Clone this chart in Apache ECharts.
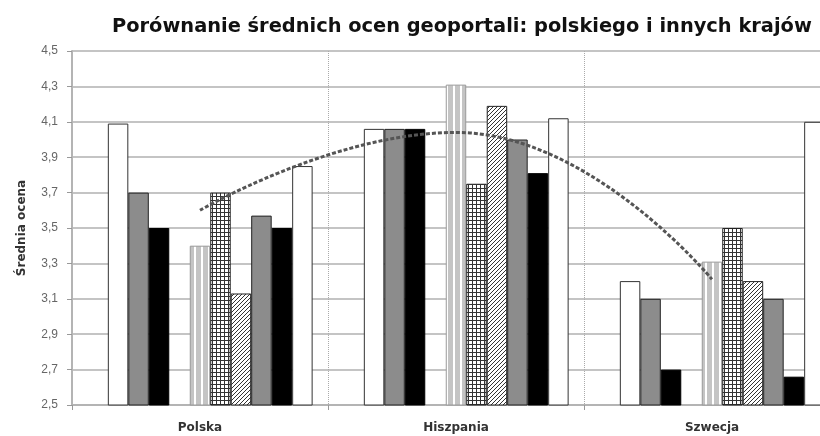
<!DOCTYPE html>
<html lang="pl">

<head>
    <meta charset="UTF-8">
    <title>Porównanie średnich ocen geoportali</title>
    <style>
        * {
            padding: 0;
            margin: 0;
        }
        body {
            background: #fff;
        }
    </style>
</head>

<body>
    <div id="chart" style="width: 820px; height: 436px;"></div>
    <script src="https://cdn.jsdelivr.net/npm/echarts@6/dist/echarts.min.js"></script>
    <script>
        let mychart = echarts.init(document.getElementById('chart'))

        const countries = ['Polska', 'Hiszpania', 'Szwecja']
        const yTicks = { min: 2.5, max: 4.5, step: 0.2 }

        // kolejne słupki w grupie (dwa puste miejsca jak w oryginale)
        const empty1 = [null, null, null]
        const white1 = [4.09, 4.06, 3.20]
        const gray1 = [3.70, 4.06, 3.10]
        const black1 = [3.50, 4.06, 2.70]
        const empty2 = [null, null, null]
        const stripes = [3.40, 4.31, 3.31]
        const checks = [3.70, 3.75, 3.50]
        const hatch = [3.13, 4.19, 3.20]
        const gray2 = [3.57, 4.00, 3.10]
        const black2 = [3.50, 3.81, 2.66]
        const white2 = [3.85, 4.12, 4.10]
        // linia średniej
        const average = [3.60, 4.04, 3.21]

        // wzory wypełnienia
        function pattern(w, h, draw) {
            const c = document.createElement('canvas')
            c.width = w
            c.height = h
            const ctx = c.getContext('2d')
            ctx.fillStyle = '#fff'
            ctx.fillRect(0, 0, w, h)
            draw(ctx)
            return { image: c, repeat: 'repeat' }
        }

        const stripeFill = pattern(7, 4, ctx => {
            ctx.fillStyle = '#c4c4c4'
            ctx.fillRect(0, 0, 5, 4)
        })
        const checkFill = pattern(4, 4, ctx => {
            ctx.fillStyle = '#333'
            ctx.fillRect(0, 0, 4, 1)
            ctx.fillRect(0, 0, 1, 4)
        })
        const hatchFill = pattern(4, 4, ctx => {
            ctx.strokeStyle = '#333'
            ctx.lineWidth = 1
            ctx.beginPath()
            ctx.moveTo(-1, 5); ctx.lineTo(5, -1)
            ctx.moveTo(-1, 1); ctx.lineTo(1, -1)
            ctx.moveTo(3, 5); ctx.lineTo(5, 3)
            ctx.stroke()
        })

        function bar(data, color, border) {
            return {
                type: 'bar',
                data: data,
                barGap: '0%',
                barCategoryGap: '12%',
                itemStyle: {
                    color: color,
                    borderColor: border || '#222',
                    borderWidth: 1
                }
            }
        }

        let options = {
            animation: false,
            title: {
                text: 'Porównanie średnich ocen geoportali: polskiego i innych krajów',
                left: 107,
                top: 12,
                textStyle: {
                    fontFamily: 'DejaVu Sans',
                    fontSize: 19.4,
                    fontWeight: 'bold',
                    color: '#111'
                }
            },
            // wykres jest przycięty z prawej strony, jak w oryginale
            grid: {
                left: 72,
                width: 768,
                top: 51,
                height: 354,
                outerBoundsMode: 'none'
            },
            xAxis: {
                type: 'category',
                data: countries,
                axisLine: {
                    lineStyle: { color: '#b4b4b4', width: 2 }
                },
                axisTick: {
                    show: true,
                    length: 5,
                    lineStyle: { color: '#999' }
                },
                axisLabel: {
                    margin: 17,
                    fontFamily: 'DejaVu Sans',
                    fontSize: 12,
                    fontWeight: 'bold',
                    color: '#333'
                },
                splitLine: {
                    show: true,
                    lineStyle: { type: 'dotted', color: '#aaa', width: 1 }
                }
            },
            yAxis: {
                type: 'value',
                min: yTicks.min,
                max: yTicks.max,
                interval: yTicks.step,
                name: 'Średnia ocena',
                nameLocation: 'middle',
                nameGap: 44,
                nameTextStyle: {
                    fontFamily: 'DejaVu Sans',
                    fontSize: 12,
                    fontWeight: 'bold',
                    color: '#333'
                },
                axisLine: {
                    show: true,
                    lineStyle: { color: '#b4b4b4', width: 2 }
                },
                axisTick: {
                    show: true,
                    length: 5,
                    lineStyle: { color: '#999' }
                },
                axisLabel: {
                    margin: 14,
                    fontFamily: 'Liberation Sans',
                    fontSize: 12,
                    color: '#666',
                    formatter: v => v.toFixed(1).replace('.', ',')
                },
                splitLine: {
                    show: true,
                    lineStyle: { color: '#c4c4c4', width: 2 }
                }
            },
            series: [
                bar(empty1, '#fff'),
                bar(white1, '#fff', '#333'),
                bar(gray1, '#8c8c8c'),
                bar(black1, '#000', '#000'),
                bar(empty2, '#fff'),
                bar(stripes, stripeFill, '#999'),
                bar(checks, checkFill),
                bar(hatch, hatchFill),
                bar(gray2, '#8c8c8c'),
                bar(black2, '#000', '#000'),
                bar(white2, '#fff', '#333'),
                {
                    type: 'line',
                    data: average,
                    smooth: true,
                    symbol: 'none',
                    z: 5,
                    lineStyle: {
                        color: '#555',
                        width: 3,
                        type: [4, 2]
                    }
                }
            ]
        }

        mychart.setOption(options);
    </script>
</body>

</html>
